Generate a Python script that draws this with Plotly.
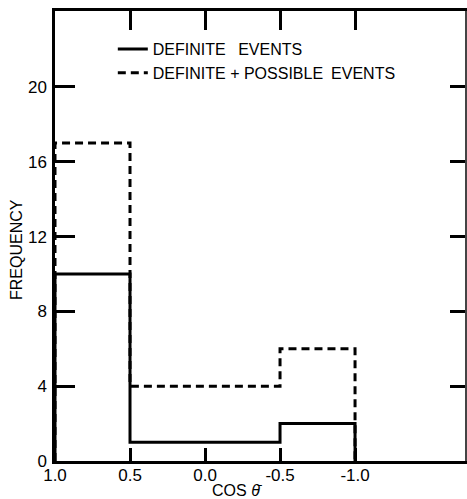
import plotly.graph_objects as go

# Data
bin_edges = [1.0, 0.5, -0.5, -1.0]
definite_counts = [10, 1, 2]
definite_possible_counts = [17, 4, 6]
x_tick_vals = [1.0, 0.5, 0.0, -0.5, -1.0]
x_tick_text = ["1.0", "0.5", "0.0", "-0.5", "-1.0"]
y_tick_vals = [0, 4, 8, 12, 16, 20]
series_names = ["DEFINITE\u2002 EVENTS", "DEFINITE + POSSIBLE\u2002EVENTS"]


def step_outline(edges, counts):
    xs = [edges[0]] + list(edges)
    ys = [0] + list(counts) + [0]
    return xs, ys


FONT = "Liberation Sans, Arial, sans-serif"
X_RANGE = [1.0, -1.733]
Y_RANGE = [0, 24.06]

fig = go.Figure()
xs, ys = step_outline(bin_edges, definite_counts)
fig.add_trace(go.Scatter(x=xs, y=ys, mode="lines", line_shape="hv",
                         line=dict(color="black", width=3),
                         name=series_names[0]))
xs2, ys2 = step_outline(bin_edges, definite_possible_counts)
fig.add_trace(go.Scatter(x=xs2, y=ys2, mode="lines", line_shape="hv",
                         line=dict(color="black", width=3, dash="8px,5px"),
                         name=series_names[1]))
# empty trace so the top / right tick axes get drawn
fig.add_trace(go.Scatter(x=[], y=[], xaxis="x2", yaxis="y2",
                         showlegend=False, hoverinfo="skip"))

fig.update_layout(
    width=467, height=499,
    margin=dict(l=55, r=2, t=11, b=38),
    paper_bgcolor="white", plot_bgcolor="white",
    font=dict(family=FONT, size=17, color="black"),
    showlegend=True,
    legend=dict(x=0.141, y=0.953, xanchor="left", yanchor="top",
                bgcolor="rgba(0,0,0,0)", font=dict(size=16),
                tracegroupgap=0, itemwidth=30),
    xaxis=dict(
        range=X_RANGE, tickvals=x_tick_vals, ticktext=x_tick_text,
        ticks="inside", ticklen=13, tickwidth=2.5, tickcolor="black",
        showline=True, linewidth=2.5, linecolor="black",
        showgrid=False, zeroline=False, tickfont=dict(size=17),
        ticklabelstandoff=-3,
    ),
    xaxis2=dict(
        range=X_RANGE, tickvals=x_tick_vals, overlaying="x", side="top",
        anchor="y2",
        ticks="inside", ticklen=19, tickwidth=2.5, tickcolor="black",
        showline=True, linewidth=2.5, linecolor="black",
        showgrid=False, zeroline=False, showticklabels=False,
    ),
    yaxis=dict(
        range=Y_RANGE, tickvals=y_tick_vals,
        ticks="inside", ticklen=20, tickwidth=2.5, tickcolor="black",
        showline=True, linewidth=2.5, linecolor="black",
        showgrid=False, zeroline=False, tickfont=dict(size=17),
        ticklabelstandoff=2,
    ),
    yaxis2=dict(
        range=Y_RANGE, tickvals=y_tick_vals, overlaying="y", side="right",
        anchor="x2",
        ticks="inside", ticklen=15, tickwidth=2.5, tickcolor="black",
        showline=True, linewidth=1.5, linecolor="#444",
        showgrid=False, zeroline=False, showticklabels=False,
    ),
    annotations=[
        dict(text="COS <i>θ̄</i>", xref="paper", yref="paper",
             x=(237 - 55) / 410, y=(461 - 490) / 450,
             xanchor="center", yanchor="middle", showarrow=False,
             font=dict(size=16)),
        dict(text="FREQUENCY", xref="paper", yref="paper",
             x=(16 - 55) / 410, y=(461 - 250) / 450, textangle=-90,
             xanchor="center", yanchor="middle", showarrow=False,
             font=dict(size=16)),
    ],
)

fig.write_html("out.html")
